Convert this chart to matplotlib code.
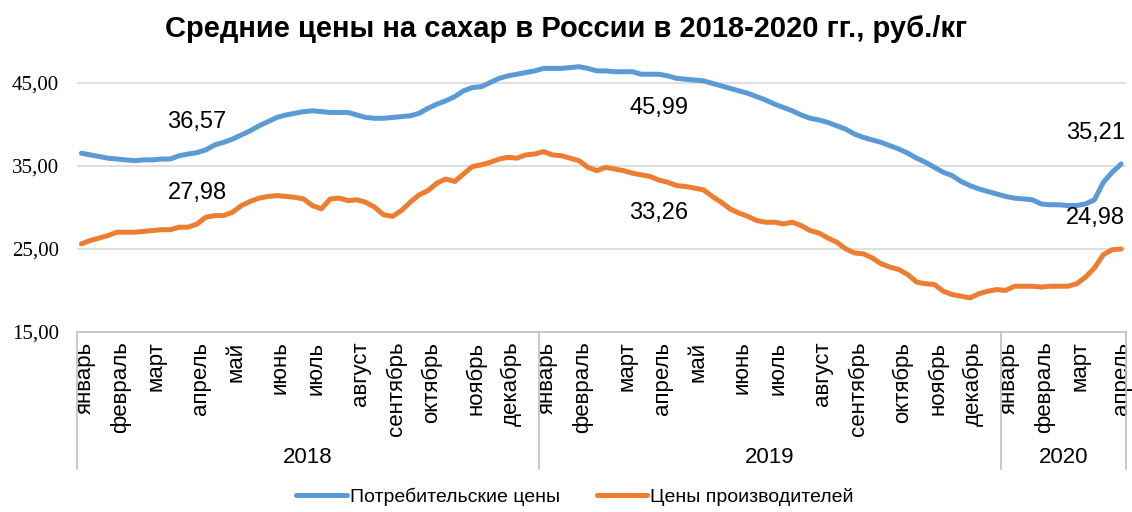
import matplotlib.pyplot as plt
import matplotlib.transforms as mtransforms

# ── Data (weekly, Jan 2018 – Apr 2020) ─────────────────────
consumer = [
    36.5, 36.3, 36.1, 35.9, 35.8, 35.7, 35.6, 35.7, 35.7, 35.8,
    35.8, 36.2, 36.4, 36.57, 36.9, 37.5, 37.8, 38.2, 38.7, 39.2,
    39.8, 40.3, 40.8, 41.1, 41.3, 41.5, 41.6, 41.5, 41.4, 41.4,
    41.4, 41.1, 40.8, 40.7, 40.7, 40.8, 40.9, 41.0, 41.3, 41.9,
    42.4, 42.8, 43.3, 44.0, 44.4, 44.5, 45.0, 45.5, 45.8, 46.0,
    46.2, 46.4, 46.7, 46.7, 46.7, 46.8, 46.9, 46.7, 46.4, 46.4,
    46.3, 46.3, 46.3, 46.0, 46.0, 45.99, 45.8, 45.5, 45.4, 45.3,
    45.2, 44.9, 44.6, 44.3, 44.0, 43.7, 43.3, 42.9, 42.4, 42.0,
    41.6, 41.1, 40.7, 40.5, 40.2, 39.8, 39.4, 38.8, 38.4, 38.1,
    37.8, 37.4, 37.0, 36.5, 35.9, 35.4, 34.8, 34.2, 33.8, 33.1,
    32.6, 32.2, 31.9, 31.6, 31.3, 31.1, 31.0, 30.9, 30.4, 30.3,
    30.3, 30.2, 30.2, 30.4, 30.9, 33.0, 34.2, 35.21,
]
producer = [
    25.6, 26.0, 26.3, 26.6, 27.0, 27.0, 27.0, 27.1, 27.2, 27.3,
    27.3, 27.6, 27.6, 27.98, 28.8, 29.0, 29.0, 29.4, 30.2, 30.7,
    31.1, 31.3, 31.4, 31.3, 31.2, 31.0, 30.2, 29.8, 31.0, 31.1,
    30.8, 30.9, 30.6, 30.0, 29.1, 28.9, 29.6, 30.6, 31.5, 32.0,
    32.9, 33.4, 33.1, 34.0, 34.9, 35.1, 35.4, 35.8, 36.0, 35.9,
    36.3, 36.4, 36.7, 36.3, 36.2, 35.9, 35.6, 34.8, 34.4, 34.8,
    34.6, 34.4, 34.1, 33.9, 33.7, 33.26, 33.0, 32.6, 32.5, 32.3,
    32.1, 31.3, 30.6, 29.8, 29.3, 28.9, 28.4, 28.2, 28.2, 28.0,
    28.2, 27.8, 27.2, 26.9, 26.3, 25.8, 25.0, 24.5, 24.4, 23.9,
    23.2, 22.8, 22.5, 21.9, 21.0, 20.8, 20.7, 19.9, 19.5, 19.3,
    19.1, 19.6, 19.9, 20.1, 20.0, 20.5, 20.5, 20.5, 20.4, 20.5,
    20.5, 20.5, 20.8, 21.6, 22.7, 24.3, 24.9, 24.98,
]

month_names = [
    "январь", "февраль", "март", "апрель", "май", "июнь", "июль",
    "август", "сентябрь", "октябрь", "ноябрь", "декабрь",
    "январь", "февраль", "март", "апрель", "май", "июнь", "июль",
    "август", "сентябрь", "октябрь", "ноябрь", "декабрь",
    "январь", "февраль", "март", "апрель",
]
month_week = [
    0, 4, 8, 13, 17, 22, 26, 31, 35, 39, 44, 48,
    52, 56, 61, 65, 69, 74, 78, 83, 87, 92, 96, 100,
    104, 108, 112, 117,
]
years = ["2018", "2019", "2020"]
year_bounds = [-0.5, 51.5, 103.5, 117.5]

# labelled points: (week index, series, text, offset in points)
labels = [
    (13, "c", "36,57", 22), (13, "p", "27,98", 22),
    (65, "c", "45,99", -24), (65, "p", "33,26", -24),
]

BLUE = "#5B9BD5"
ORANGE = "#ED7D31"
GRID = "#D9D9D9"
AXIS = "#BFBFBF"

plt.rcParams["font.family"] = ["Liberation Sans", "DejaVu Sans"]

fig = plt.figure(figsize=(11.32, 5.12), dpi=100)
ax = fig.add_axes([0.068, 0.3516, 0.9263, 0.5684])

x = list(range(len(consumer)))
ax.plot(x, consumer, color=BLUE, lw=3.6, solid_capstyle="round",
        solid_joinstyle="round", label="Потребительские цены")
ax.plot(x, producer, color=ORANGE, lw=3.6, solid_capstyle="round",
        solid_joinstyle="round", label="Цены производителей")

ax.set_xlim(-0.5, 117.5)
ax.set_ylim(15, 50)
ax.set_yticks([15, 25, 35, 45])
ax.set_yticklabels([f"{v:.2f}".replace(".", ",") for v in [15, 25, 35, 45]],
                   family="Liberation Serif", fontsize=15)
ax.tick_params(axis="y", length=0, pad=13)
for v in [25, 35, 45]:
    ax.axhline(v, color=GRID, lw=1.2, zorder=0)

ax.set_xticks(month_week)
ax.set_xticklabels(month_names, rotation=90, va="top", ha="center", fontsize=16)
ax.tick_params(axis="x", length=0, pad=7)
# month labels sit a few pixels right of their week (except the last one at the edge)
shift = mtransforms.ScaledTranslation(0.035, 0, fig.dpi_scale_trans)
for lab in ax.get_xticklabels()[:-1]:
    lab.set_transform(lab.get_transform() + shift)

for s in ["top", "right", "left"]:
    ax.spines[s].set_visible(False)
ax.spines["bottom"].set_color(AXIS)
ax.spines["bottom"].set_linewidth(1.2)

trans = mtransforms.blended_transform_factory(ax.transData, ax.transAxes)
for b in year_bounds:
    ax.plot([b, b], [0, -0.47], color=AXIS, lw=1.2, transform=trans, clip_on=False)
for i, yr in enumerate(years):
    xc = (year_bounds[i] + year_bounds[i + 1]) / 2
    ax.text(xc, -0.43, yr, transform=trans, ha="center", va="center", fontsize=16)

series = {"c": consumer, "p": producer}
for idx, key, txt, off in labels:
    ax.annotate(txt, (idx, series[key][idx]), xytext=(0, off),
                textcoords="offset points", ha="center", va="center", fontsize=17)
last = len(consumer) - 1
ax.annotate("35,21", (last, consumer[last]), xytext=(3, 22),
            textcoords="offset points", ha="right", va="center", fontsize=17)
ax.annotate("24,98", (last, producer[last]), xytext=(3, 22),
            textcoords="offset points", ha="right", va="center", fontsize=17)

fig.text(0.5, 0.943, "Средние цены на сахар в России в 2018-2020 гг., руб./кг",
         ha="center", va="center", fontsize=21, fontweight="bold")

fig.legend(loc="center", bbox_to_anchor=(0.508, 0.03), ncol=2, frameon=False,
           fontsize=14, handlelength=2.6, handletextpad=0.15, columnspacing=1.9)

fig.savefig("out.png", dpi=100)
